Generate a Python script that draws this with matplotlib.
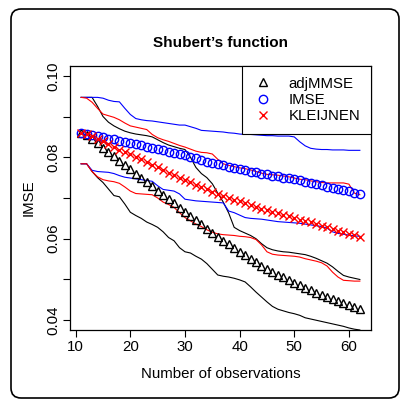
import numpy as np
import matplotlib
matplotlib.use("Agg")
import matplotlib.pyplot as plt
from matplotlib.patches import FancyBboxPatch

plt.rcParams['font.family'] = ['Liberation Sans', 'DejaVu Sans']

# number of observations
n_obs = list(range(11, 63))

# median IMSE of each design strategy
adjmmse_med = [0.0860, 0.0855, 0.0845, 0.0834, 0.0823, 0.0813, 0.0802, 0.0792, 0.0781, 0.0771,
               0.0760, 0.0750, 0.0739, 0.0729, 0.0718, 0.0708, 0.0697, 0.0687, 0.0676, 0.0666,
               0.0656, 0.0645, 0.0635, 0.0625, 0.0615, 0.0605, 0.0595, 0.0586, 0.0577, 0.0568,
               0.0559, 0.0550, 0.0542, 0.0534, 0.0526, 0.0519, 0.0512, 0.0505, 0.0498, 0.0492,
               0.0486, 0.0480, 0.0474, 0.0468, 0.0463, 0.0458, 0.0453, 0.0448, 0.0443, 0.0438,
               0.0433, 0.0428]
imse_med = [0.0860, 0.0858, 0.0855, 0.0852, 0.0849, 0.0846, 0.0844, 0.0841, 0.0838, 0.0835,
            0.0832, 0.0829, 0.0826, 0.0823, 0.0820, 0.0817, 0.0814, 0.0811, 0.0808, 0.0805,
            0.0801, 0.0797, 0.0793, 0.0789, 0.0786, 0.0783, 0.0780, 0.0777, 0.0774, 0.0771,
            0.0768, 0.0765, 0.0763, 0.0760, 0.0758, 0.0755, 0.0753, 0.0750, 0.0748, 0.0746,
            0.0743, 0.0740, 0.0737, 0.0734, 0.0731, 0.0728, 0.0725, 0.0722, 0.0719, 0.0716,
            0.0713, 0.0710]
kleijnen_med = [0.0860, 0.0858, 0.0852, 0.0846, 0.0840, 0.0832, 0.0825, 0.0819, 0.0813, 0.0807,
                0.0801, 0.0795, 0.0789, 0.0782, 0.0775, 0.0768, 0.0762, 0.0756, 0.0750, 0.0745,
                0.0739, 0.0733, 0.0727, 0.0721, 0.0714, 0.0709, 0.0704, 0.0700, 0.0696, 0.0692,
                0.0688, 0.0684, 0.0679, 0.0674, 0.0670, 0.0666, 0.0663, 0.0659, 0.0655, 0.0651,
                0.0647, 0.0643, 0.0640, 0.0636, 0.0632, 0.0628, 0.0624, 0.0620, 0.0616, 0.0612,
                0.0608, 0.0604]

# upper / lower bands
adjmmse_up = [0.0947, 0.0947, 0.0947, 0.0925, 0.0900, 0.0886, 0.0877, 0.0870, 0.0864, 0.0860,
              0.0857, 0.0855, 0.0853, 0.0850, 0.0843, 0.0836, 0.0830, 0.0826, 0.0822, 0.0819,
              0.0800, 0.0775, 0.0760, 0.0750, 0.0735, 0.0712, 0.0690, 0.0663, 0.0628, 0.0620,
              0.0614, 0.0608, 0.0600, 0.0588, 0.0578, 0.0573, 0.0570, 0.0568, 0.0567, 0.0565,
              0.0563, 0.0561, 0.0557, 0.0552, 0.0546, 0.0540, 0.0531, 0.0520, 0.0510, 0.0506,
              0.0503, 0.0500]
adjmmse_lo = [0.0784, 0.0784, 0.0765, 0.0750, 0.0738, 0.0722, 0.0706, 0.0703, 0.0685, 0.0665,
              0.0657, 0.0650, 0.0641, 0.0635, 0.0628, 0.0617, 0.0603, 0.0595, 0.0578, 0.0568,
              0.0565, 0.0557, 0.0550, 0.0539, 0.0525, 0.0511, 0.0508, 0.0506, 0.0503, 0.0499,
              0.0494, 0.0482, 0.0469, 0.0457, 0.0445, 0.0434, 0.0427, 0.0423, 0.0419, 0.0416,
              0.0412, 0.0406, 0.0403, 0.0400, 0.0397, 0.0394, 0.0391, 0.0388, 0.0385, 0.0381,
              0.0378, 0.0376]
imse_up = [0.0947, 0.0947, 0.0947, 0.0947, 0.0945, 0.0940, 0.0937, 0.0936, 0.0920, 0.0905,
           0.0895, 0.0892, 0.0890, 0.0889, 0.0887, 0.0885, 0.0883, 0.0881, 0.0879, 0.0879,
           0.0875, 0.0871, 0.0866, 0.0865, 0.0864, 0.0863, 0.0862, 0.0860, 0.0859, 0.0857,
           0.0856, 0.0856, 0.0855, 0.0854, 0.0853, 0.0853, 0.0852, 0.0852, 0.0852, 0.0850,
           0.0838, 0.0828, 0.0822, 0.0820, 0.0819, 0.0819, 0.0818, 0.0818, 0.0818, 0.0817,
           0.0817, 0.0817]
imse_lo = [0.0784, 0.0784, 0.0768, 0.0765, 0.0764, 0.0763, 0.0760, 0.0755, 0.0751, 0.0749,
           0.0747, 0.0745, 0.0743, 0.0741, 0.0730, 0.0721, 0.0719, 0.0717, 0.0710, 0.0697,
           0.0695, 0.0693, 0.0692, 0.0691, 0.0690, 0.0689, 0.0688, 0.0668, 0.0664, 0.0658,
           0.0652, 0.0650, 0.0649, 0.0648, 0.0646, 0.0644, 0.0642, 0.0641, 0.0640, 0.0639,
           0.0638, 0.0636, 0.0634, 0.0632, 0.0630, 0.0626, 0.0617, 0.0613, 0.0611, 0.0609,
           0.0607, 0.0606]
kleijnen_up = [0.0947, 0.0945, 0.0935, 0.0920, 0.0906, 0.0902, 0.0898, 0.0892, 0.0884, 0.0877,
               0.0874, 0.0871, 0.0868, 0.0856, 0.0848, 0.0843, 0.0839, 0.0834, 0.0829, 0.0825,
               0.0820, 0.0815, 0.0812, 0.0811, 0.0808, 0.0795, 0.0784, 0.0780, 0.0777, 0.0774,
               0.0772, 0.0769, 0.0765, 0.0761, 0.0758, 0.0757, 0.0756, 0.0754, 0.0752, 0.0749,
               0.0746, 0.0745, 0.0742, 0.0740, 0.0738, 0.0737, 0.0737, 0.0737, 0.0737, 0.0734,
               0.0712, 0.0708]
kleijnen_lo = [0.0784, 0.0784, 0.0765, 0.0752, 0.0745, 0.0742, 0.0740, 0.0736, 0.0727, 0.0717,
               0.0711, 0.0710, 0.0709, 0.0708, 0.0700, 0.0690, 0.0684, 0.0677, 0.0664, 0.0652,
               0.0644, 0.0636, 0.0630, 0.0622, 0.0616, 0.0612, 0.0610, 0.0609, 0.0608, 0.0606,
               0.0605, 0.0603, 0.0598, 0.0585, 0.0568, 0.0562, 0.0560, 0.0559, 0.0558, 0.0557,
               0.0555, 0.0551, 0.0548, 0.0545, 0.0541, 0.0533, 0.0518, 0.0506, 0.0498, 0.0497,
               0.0496, 0.0496]

W, H = 403, 401
fs = 10.8
fig = plt.figure(figsize=(W / 100, H / 100), dpi=100)

# rounded frame around the whole figure
frame = FancyBboxPatch((11 / W, 1 - 398 / H), (399 - 11) / W, (398 - 9) / H,
                       boxstyle="round,pad=0,rounding_size=0.025",
                       transform=fig.transFigure, fill=False, ec='black', lw=1.2)
fig.patches.append(frame)

ax = fig.add_axes([70 / W, 1 - 330 / H, (371 - 70) / W, (330 - 66) / H])

lw = 0.8
ax.plot(n_obs, adjmmse_up, color='black', lw=lw)
ax.plot(n_obs, adjmmse_lo, color='black', lw=lw)
ax.plot(n_obs, imse_up, color='blue', lw=lw)
ax.plot(n_obs, imse_lo, color='blue', lw=lw)
ax.plot(n_obs, kleijnen_up, color='red', lw=lw)
ax.plot(n_obs, kleijnen_lo, color='red', lw=lw)

ax.plot(n_obs, adjmmse_med, ls='none', marker='^', ms=6, mfc='none', mec='black', mew=1.0,
        label='adjMMSE')
ax.plot(n_obs, imse_med, ls='none', marker='o', ms=6, mfc='none', mec='blue', mew=1.0,
        label='IMSE')
ax.plot(n_obs, kleijnen_med, ls='none', marker='x', ms=5.5, mec='red', mew=1.0,
        label='KLEIJNEN')

ax.set_xlim(8.96, 64.04)
ax.set_ylim(0.0376, 0.1024)
ax.set_xticks([10, 20, 30, 40, 50, 60])
ax.set_yticks([0.04, 0.05, 0.06, 0.07, 0.08, 0.09, 0.10])
ax.set_yticklabels(['0.04', '', '0.06', '', '0.08', '', '0.10'], rotation=90, va='center')
ax.tick_params(direction='out', length=5, width=0.8, labelsize=fs)
ax.tick_params(axis='x', pad=2)
ax.tick_params(axis='y', pad=2)
for s in ax.spines.values():
    s.set_linewidth(0.9)

ax.set_xlabel('Number of observations', fontsize=fs, labelpad=9.5)
ax.set_ylabel('IMSE', fontsize=fs, labelpad=8)
fig.text(220.5 / W, 1 - 43 / H, "Shubert\u2019s function", ha='center', va='center',
         fontsize=11, fontweight='bold')

leg = ax.legend(loc='upper right', borderaxespad=0, fancybox=False, edgecolor='black',
                fontsize=fs, handlelength=1.36, handletextpad=1.05, labelspacing=0.15,
                borderpad=0.7, framealpha=1)
leg.get_frame().set_linewidth(0.8)

fig.savefig('out.png', dpi=100)
